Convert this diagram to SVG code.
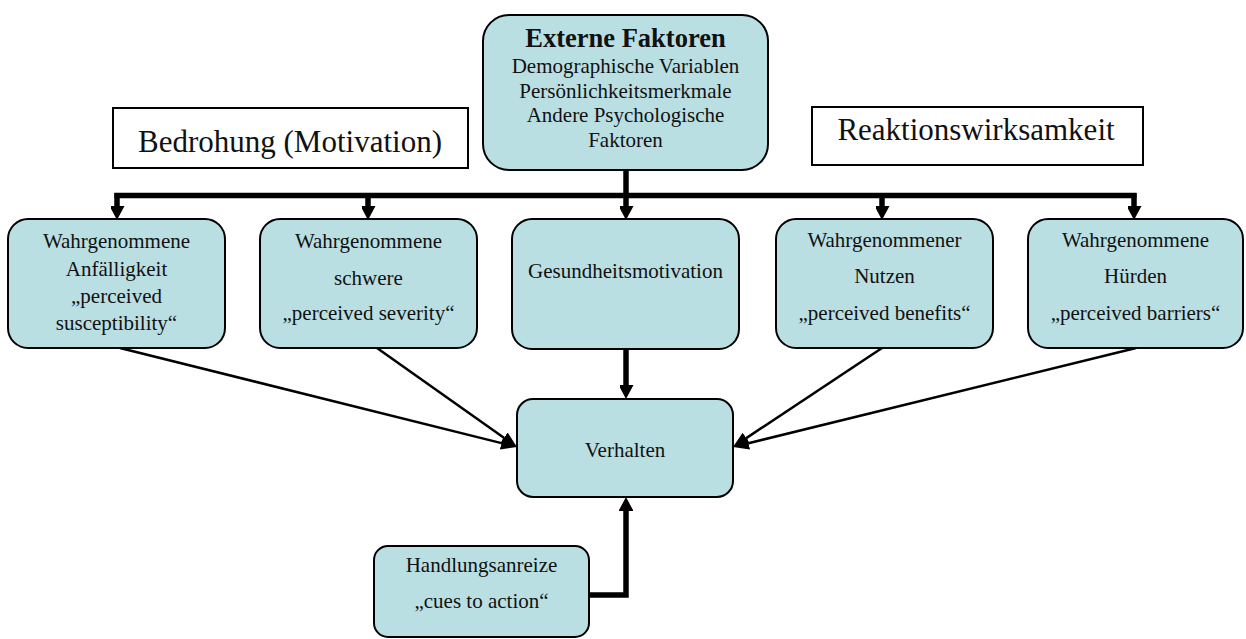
<svg xmlns="http://www.w3.org/2000/svg" width="1246" height="639" viewBox="0 0 1246 639">
<style>
.box{fill:#BADFE3;stroke:#000;stroke-width:2}
.lbl{fill:#fff;stroke:#000;stroke-width:2}
text{font-family:"Liberation Serif","Times New Roman",serif;fill:#111;text-anchor:middle}
.t{font-size:21px}
.big{font-size:31px}
.title{font-size:26.5px;font-weight:bold}
.thick{stroke:#000;stroke-width:5.5;fill:none;stroke-linejoin:miter}
.thin{stroke:#000;stroke-width:2.5;fill:none}
</style>
<defs>
<marker id="ah" markerUnits="userSpaceOnUse" markerWidth="15" markerHeight="14" refX="0" refY="7.5" orient="auto">
<path d="M0,0 L14,7.5 L0,15 z" fill="#000"/>
</marker>
<marker id="at" markerUnits="userSpaceOnUse" markerWidth="16" markerHeight="13" refX="0" refY="6.5" orient="auto">
<path d="M0,0 L16,6.5 L0,13 z" fill="#000"/>
</marker>
</defs>
<g id="connectors">
<path class="thick" d="M626,170 V195.5"/>
<path class="thick" d="M114.5,195.5 H1136.5"/>
<path class="thick" d="M117,193 V206" marker-end="url(#ah)"/>
<path class="thick" d="M368,195.5 V206" marker-end="url(#ah)"/>
<path class="thick" d="M626,195.5 V206" marker-end="url(#ah)"/>
<path class="thick" d="M882,195.5 V206" marker-end="url(#ah)"/>
<path class="thick" d="M1134,193 V206" marker-end="url(#ah)"/>
<path class="thick" d="M626,349 V385" marker-end="url(#ah)"/>
<path class="thick" d="M589,595 H626 V511" marker-end="url(#ah)"/>
<path class="thin" d="M120,348 L501.5,443.1" marker-end="url(#at)"/>
<path class="thin" d="M377,348 L503.9,437.8" marker-end="url(#at)"/>
<path class="thin" d="M882,348 L746.3,438.1" marker-end="url(#at)"/>
<path class="thin" d="M1136,348 L748.5,443.2" marker-end="url(#at)"/>
</g>
<g id="label-bedrohung">
<rect class="lbl" x="113" y="108" width="355" height="60"/>
<text class="big" x="290" y="152">Bedrohung (Motivation)</text>
</g>
<g id="label-reaktion">
<rect class="lbl" x="812" y="107" width="331" height="58"/>
<text class="big" x="976" y="140">Reaktionswirksamkeit</text>
</g>
<g id="externe">
<rect class="box" x="483" y="15" width="285" height="155" rx="26"/>
<text class="title" x="625.5" y="47">Externe Faktoren</text>
<text class="t" x="625.5" y="73">Demographische Variablen</text>
<text class="t" x="625.5" y="98">Persönlichkeitsmerkmale</text>
<text class="t" x="625.5" y="122">Andere Psychologische</text>
<text class="t" x="625.5" y="147">Faktoren</text>
</g>
<g id="anfaelligkeit">
<rect class="box" x="8" y="219" width="217" height="129" rx="20"/>
<text class="t" x="116.5" y="248">Wahrgenommene</text>
<text class="t" x="116.5" y="275.5">Anfälligkeit</text>
<text class="t" x="116.5" y="302.5">„perceived</text>
<text class="t" x="116.5" y="330">susceptibility“</text>
</g>
<g id="schwere">
<rect class="box" x="260" y="219" width="217" height="129" rx="20"/>
<text class="t" x="368.5" y="248">Wahrgenommene</text>
<text class="t" x="368.5" y="285">schwere</text>
<text class="t" x="368.5" y="320">„perceived severity“</text>
</g>
<g id="gesundheit">
<rect class="box" x="512" y="219" width="227" height="130" rx="20"/>
<text class="t" x="625.5" y="278">Gesundheitsmotivation</text>
</g>
<g id="nutzen">
<rect class="box" x="776" y="219" width="217" height="129" rx="20"/>
<text class="t" x="884.5" y="247">Wahrgenommener</text>
<text class="t" x="884.5" y="283">Nutzen</text>
<text class="t" x="884.5" y="320">„perceived benefits“</text>
</g>
<g id="huerden">
<rect class="box" x="1028" y="219" width="215" height="129" rx="20"/>
<text class="t" x="1135.5" y="247">Wahrgenommene</text>
<text class="t" x="1135.5" y="283">Hürden</text>
<text class="t" x="1135.5" y="320">„perceived barriers“</text>
</g>
<g id="verhalten">
<rect class="box" x="517" y="399" width="216" height="98" rx="16"/>
<text class="t" x="625" y="457">Verhalten</text>
</g>
<g id="handlung">
<rect class="box" x="374" y="546" width="215" height="91" rx="14"/>
<text class="t" x="481.5" y="572">Handlungsanreize</text>
<text class="t" x="481.5" y="608">„cues to action“</text>
</g>
</svg>
